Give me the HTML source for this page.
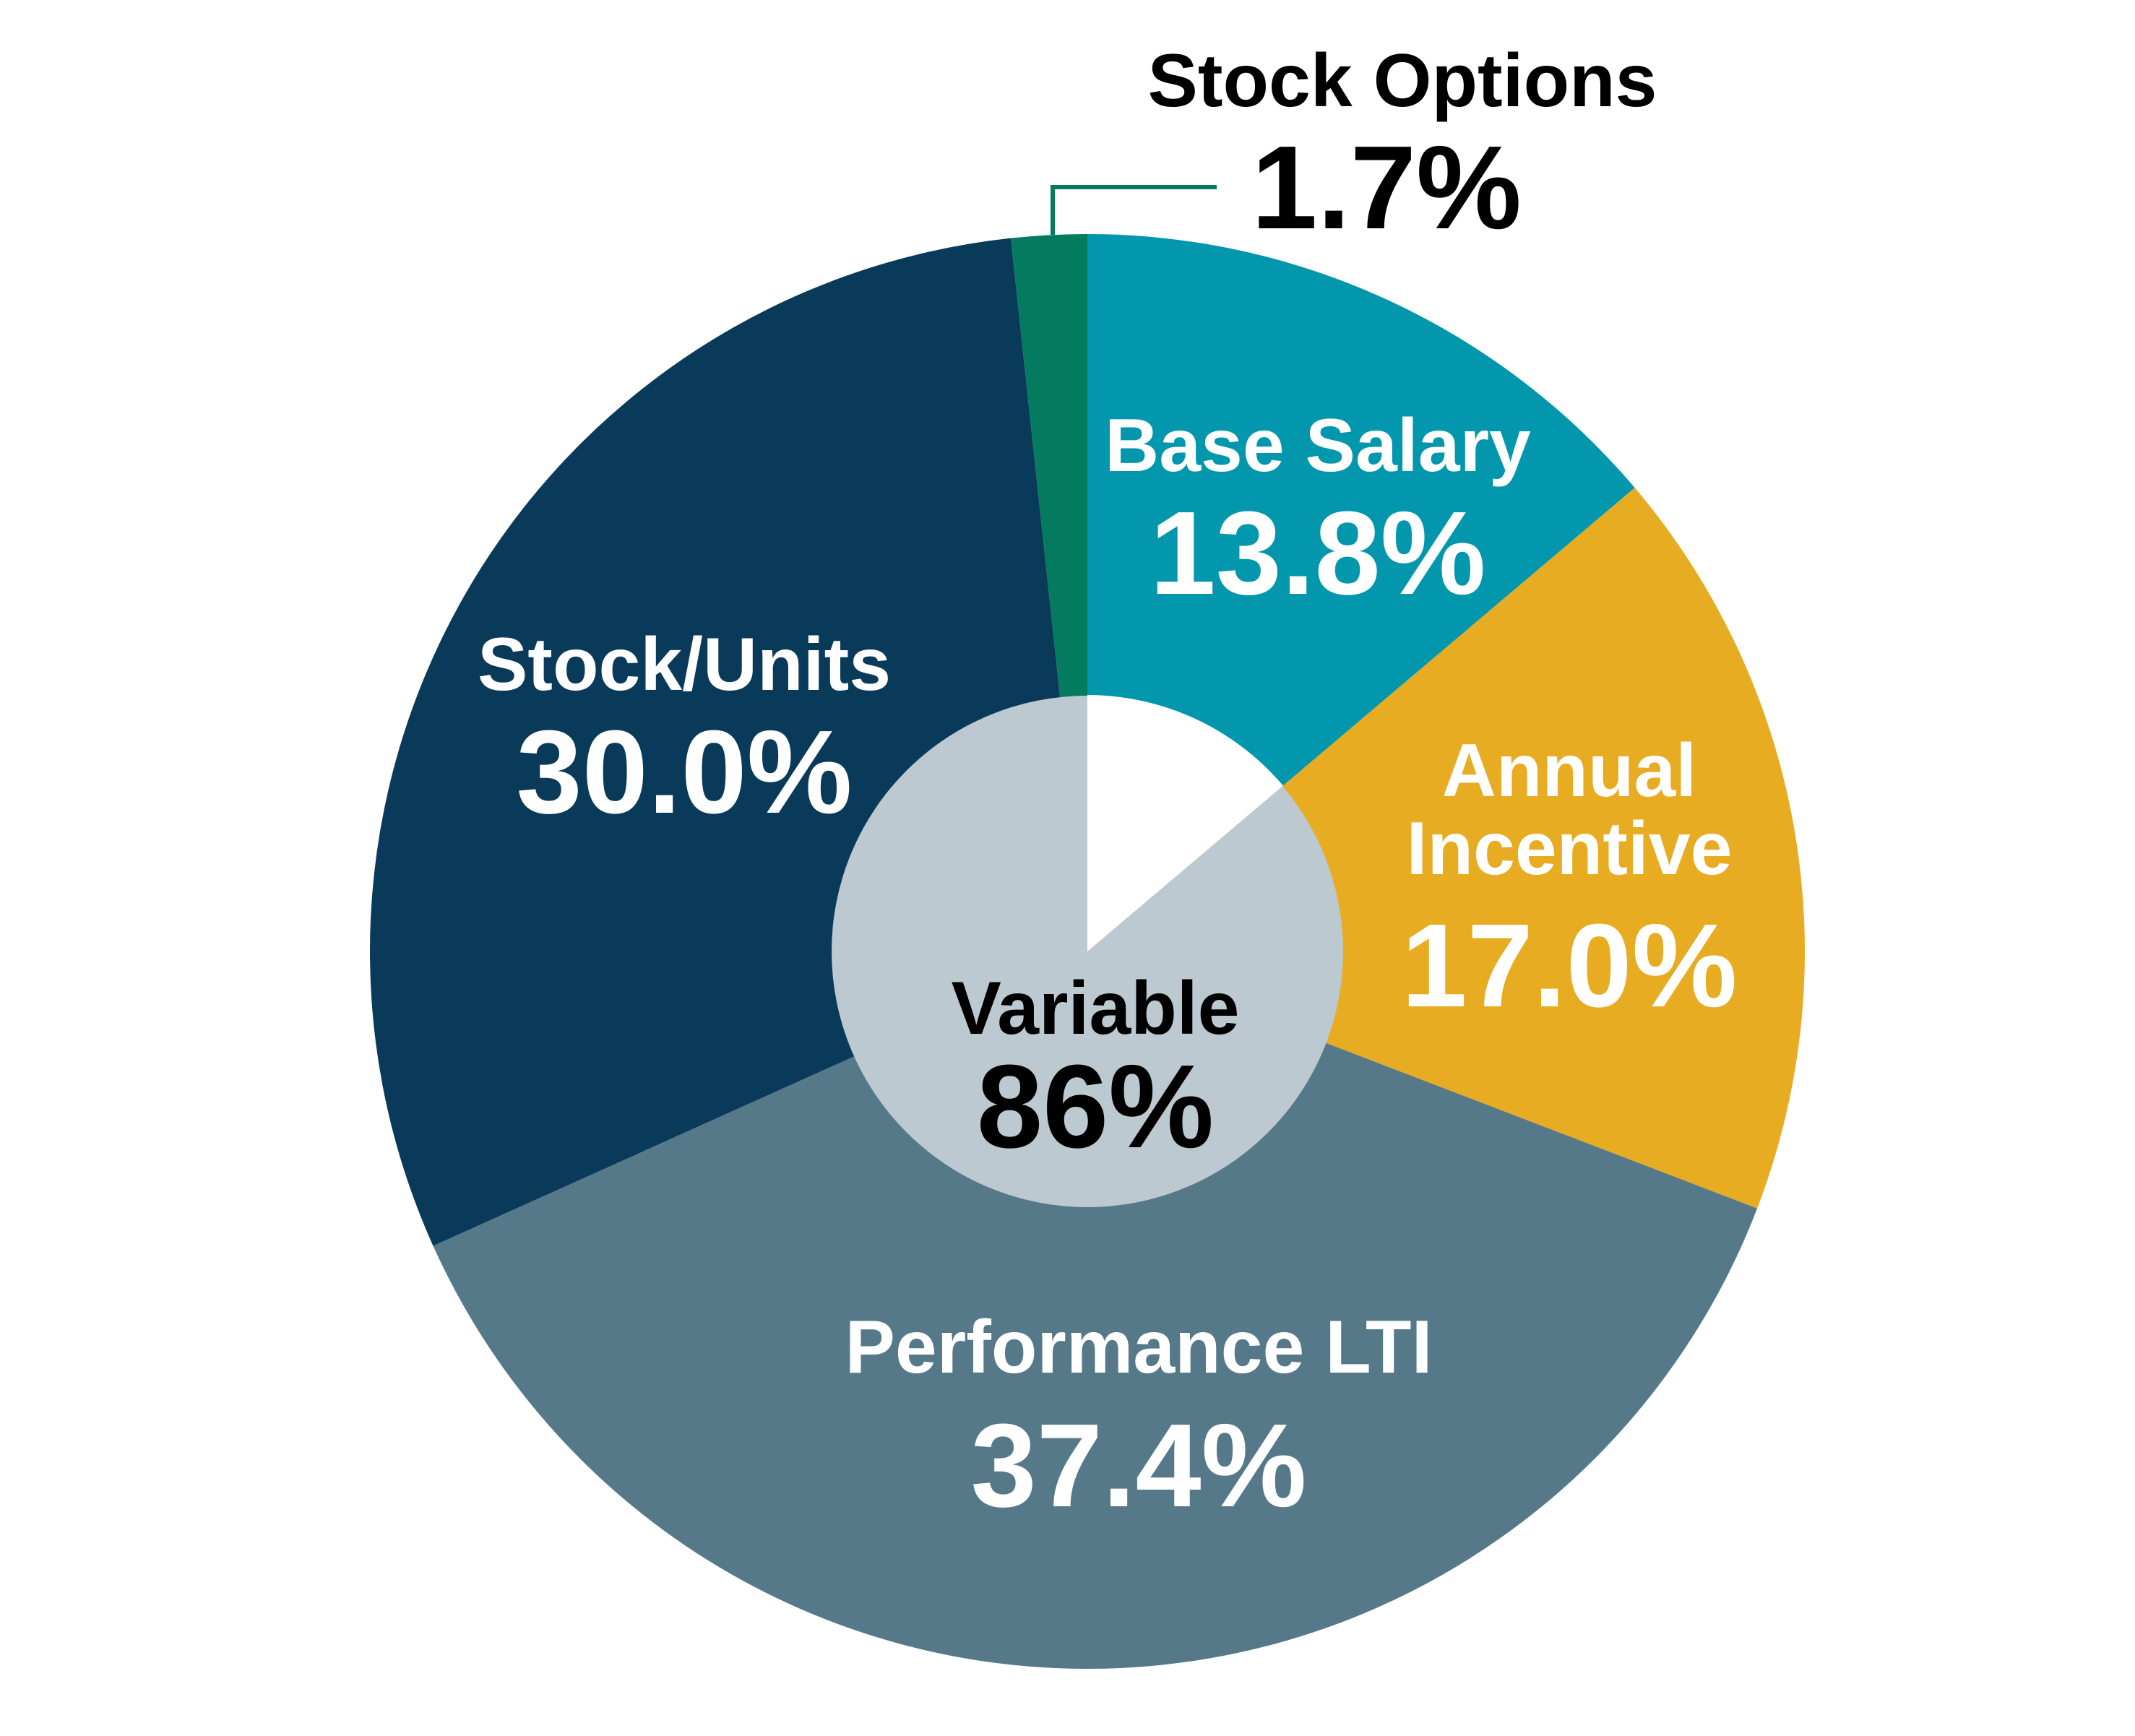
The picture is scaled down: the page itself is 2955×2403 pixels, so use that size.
<!DOCTYPE html>
<html><head><meta charset="utf-8">
<style>
html,body{margin:0;padding:0;background:#fff;}
svg{display:block;}
text{font-family:"Liberation Sans",Arial,sans-serif;font-weight:bold;text-anchor:middle;}
</style></head>
<body>
<svg id="chart" width="2955" height="2403" viewBox="0 0 2955 2403">
<g id="slices"></g>
<g id="inner"></g>
<polyline points="1457,325 1457,259 1684,259" fill="none" stroke="#047b5e" stroke-width="6"/>
<g id="labels">
<text x="1941" y="147" font-size="104" fill="#000">Stock Options</text>
<text x="1919" y="316" font-size="164" fill="#000">1.7%</text>
<text x="1824" y="652" font-size="104" fill="#fff">Base Salary</text>
<text x="1824" y="822" font-size="164" fill="#fff">13.8%</text>
<text x="947" y="955" font-size="104" fill="#fff">Stock/Units</text>
<text x="947" y="1125" font-size="164" fill="#fff">30.0%</text>
<text x="2172" y="1102" font-size="104" fill="#fff">Annual</text>
<text x="2172" y="1210" font-size="104" fill="#fff">Incentive</text>
<text x="2172" y="1393" font-size="164" fill="#fff">17.0%</text>
<text x="1576" y="1900" font-size="104" fill="#fff">Performance LTI</text>
<text x="1576" y="2085" font-size="164" fill="#fff">37.4%</text>
<text x="1516" y="1431" font-size="104" fill="#000">Variable</text>
<text x="1516" y="1588" font-size="164" fill="#000">86%</text>
</g>
</svg>
<script>
const categories = ["Base Salary","Annual Incentive","Performance LTI","Stock/Units","Stock Options"];
const values = [13.8, 17.0, 37.4, 30.0, 1.7];
const sliceColors = ["#0397ad","#e8ac22","#56798a","#0a3a5a","#047b5e"];
const fixedShare = [13.8];

const cx = 1505, cy = 1317, R = 993, r = 354;
const total = values.reduce((a,b)=>a+b,0);
const NS = "http://www.w3.org/2000/svg";
function angleOf(v){ return v / total * 2 * Math.PI; }
function pt(a, rad){ return [cx + rad*Math.sin(a), cy - rad*Math.cos(a)]; }
function wedge(a0, a1, rad){
  const p0 = pt(a0, rad), p1 = pt(a1, rad);
  const large = (a1 - a0) > Math.PI ? 1 : 0;
  return `M${cx},${cy} L${p0[0]},${p0[1]} A${rad},${rad} 0 ${large} 1 ${p1[0]},${p1[1]} Z`;
}
const gS = document.getElementById('slices');
let acc = 0;
values.forEach((v,i)=>{
  const a0 = angleOf(acc), a1 = angleOf(acc + v);
  acc += v;
  const p = document.createElementNS(NS,'path');
  p.setAttribute('d', wedge(a0, a1, R));
  p.setAttribute('fill', sliceColors[i]);
  
  
  gS.appendChild(p);
});
const gI = document.getElementById('inner');
const c = document.createElementNS(NS,'circle');
c.setAttribute('cx', cx); c.setAttribute('cy', cy); c.setAttribute('r', r);
c.setAttribute('fill', '#bcc9d0');


gI.appendChild(c);
const w = document.createElementNS(NS,'path');
w.setAttribute('d', wedge(0, angleOf(fixedShare[0]), r + 1));
w.setAttribute('fill', '#ffffff');


gI.appendChild(w);
</script>
</body></html>
